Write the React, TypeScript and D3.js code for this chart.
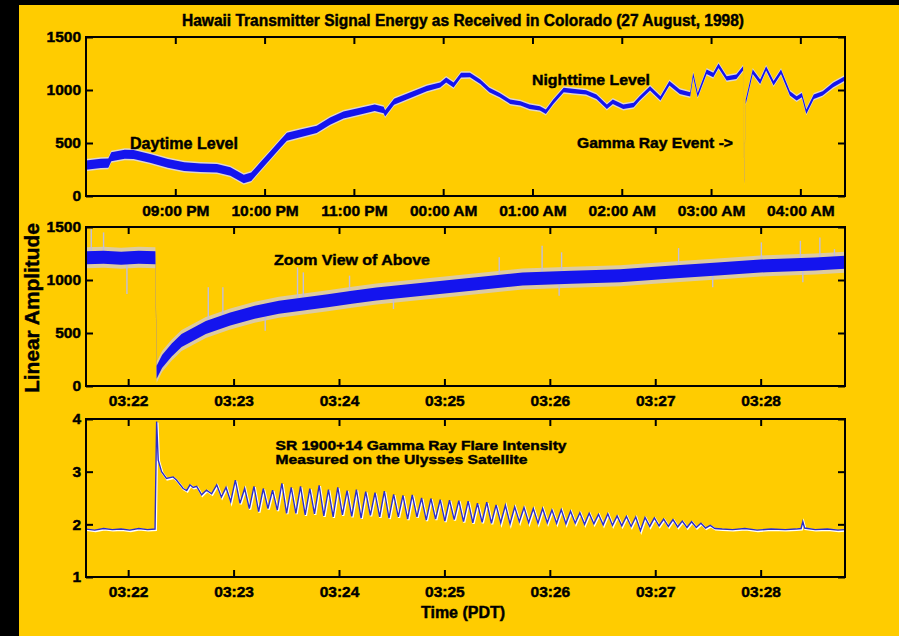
import React, { useEffect, useRef } from 'react';
import * as d3 from 'd3';

const W = 899;
const H = 636;
const FONT = '"Liberation Sans", Arial, sans-serif';

// top panel: [minutes after 20:00 PDT, linear amplitude]
const topSignal: [number, number][] = [
  [0, 292], [10, 308], [15, 310], [17, 371], [26, 393], [32, 392], [43, 355], [55, 308],
  [66, 277], [77, 267], [88, 261], [97, 230], [106, 160], [111, 182], [117, 277], [124, 387],
  [131, 497], [135, 559], [144, 591], [155, 629], [164, 707], [173, 764], [185, 802], [194, 833],
  [200, 811], [201, 780], [207, 889], [218, 952], [229, 1015], [238, 1047], [242, 1094], [247, 1047],
  [252, 1140], [258, 1141], [265, 1078], [271, 1000], [278, 952], [285, 889], [292, 874], [298, 842],
  [305, 827], [309, 795], [314, 889], [321, 1000], [327, 990], [336, 978], [343, 936], [350, 842],
  [354, 889], [361, 842], [368, 858], [372, 921], [379, 1015], [386, 921], [392, 1063], [399, 983],
  [406, 959], [408, 1141], [411, 952], [417, 1172], [421.5, 1141], [425, 1229], [430.5, 1110], [437, 1125],
  [441.5, 1204], [442.3, 135], [443.3, 889], [448, 1172], [453, 1078], [457, 1204], [462, 1063], [467, 1172],
  [473, 968], [477.5, 921], [481, 952], [484, 795], [489, 936], [495, 968], [502, 1047], [510, 1110],
];
const topTickLabels = ['09:00 PM', '10:00 PM', '11:00 PM', '00:00 AM', '01:00 AM', '02:00 AM', '03:00 AM', '04:00 AM'];
const ampTicks = [0, 500, 1000, 1500];

// middle panel: [seconds after 03:21:36, amplitude] (centre of the noisy band)
const zoomCenter: [number, number][] = [
  [0, 1210], [10, 1215], [20, 1205], [30, 1215], [39.5, 1210], [40.2, 130], [43.3, 230], [48.8, 340],
  [54.4, 430], [68.2, 553], [82.1, 632], [96, 695], [109.8, 742], [123.7, 774], [137.6, 805], [151.4, 837],
  [165.3, 868], [193, 915], [220.8, 962], [248.5, 1009], [276.3, 1025], [304, 1041], [331.7, 1072],
  [359.4, 1104], [387.2, 1135], [414.9, 1151], [432, 1167],
];
// isolated spikes standing out of the band
const zoomSpikes: [number, number][] = [
  [3, 1481], [10, 1449], [23.3, 868], [69.6, 931], [77.9, 931], [102, 522], [120.4, 1119], [123.7, 1072],
  [150, 1041], [175, 726], [235.2, 1214], [259.6, 1323], [269.3, 852], [270.7, 1261], [337.3, 1301],
  [356.7, 931], [384.4, 1355], [406.6, 1370], [408, 978], [417.7, 1402], [426, 1292],
];

// bottom panel: Ulysses flare intensity
const flareEarly: [number, number][] = [
  [0, 1.91], [5, 1.89], [10, 1.92], [15, 1.9], [20, 1.91], [25, 1.89], [30, 1.92], [35, 1.9],
  [39.3, 1.91], [39.6, 2.6], [40.2, 3.95], [41.1, 3.22], [43, 3.0], [45.8, 2.87], [49.6, 2.9], [51.5, 2.84],
  [55.3, 2.68], [57.3, 2.64], [59.2, 2.75], [61, 2.7], [63, 2.72], [65.8, 2.56], [68.6, 2.65], [71.5, 2.58],
];
const flarePulseStart = 74.4;
const flarePulseStep = 2.65;
const flarePulses = [
  2.75, 2.52, 2.70, 2.43, 2.84, 2.40, 2.68, 2.30, 2.72, 2.24, 2.68, 2.30, 2.65, 2.27, 2.78, 2.21,
  2.70, 2.21, 2.72, 2.18, 2.68, 2.20, 2.74, 2.16, 2.66, 2.14, 2.70, 2.18, 2.64, 2.15, 2.66, 2.12,
  2.62, 2.17, 2.60, 2.14, 2.63, 2.12, 2.57, 2.14, 2.55, 2.10, 2.56, 2.14, 2.50, 2.08, 2.49, 2.10,
  2.47, 2.06, 2.46, 2.09, 2.45, 2.05, 2.44, 2.03, 2.40, 2.04, 2.42, 2.02, 2.37, 2.03, 2.36, 2.01,
  2.33, 2.05, 2.32, 2.03, 2.30, 2.02, 2.30, 2.03, 2.27, 2.02, 2.28, 2.01, 2.25, 2.02, 2.22, 2.00,
  2.21, 2.01, 2.19, 1.99, 2.20, 1.98, 2.16, 1.97, 2.15, 1.96, 2.14, 1.88, 2.13, 1.96, 2.12, 1.97,
  2.10, 1.96, 2.09, 1.95, 2.06, 1.94, 2.05, 1.94, 2.02, 1.93, 1.98, 1.92,
];
const flareTail: [number, number][] = [
  [362, 1.91], [368, 1.9], [375, 1.92], [382, 1.89], [390, 1.91], [398, 1.9], [404, 1.91], [407, 1.92],
  [408, 2.05], [409, 1.93], [415, 1.9], [422, 1.91], [428, 1.89], [432, 1.9],
];
const flareTicks = [1, 2, 3, 4];

const App = () => {
  const svgRef = useRef<SVGSVGElement>(null);

  useEffect(() => {
    if (!svgRef.current) return;
    const svg = d3.select(svgRef.current);
    svg.selectAll('*').remove();

    svg.append('rect').attr('width', W).attr('height', H).attr('fill', '#000');
    svg.append('rect').attr('x', 19).attr('y', 5).attr('width', W - 19).attr('height', H - 5).attr('fill', '#ffcc00');

    const left = 86;
    const right = 845;
    const panels = { top: [37, 196], mid: [227, 386], bot: [419, 577] };

    const defs = svg.append('defs');
    Object.entries(panels).forEach(([k, [y0, y1]]) => {
      defs.append('clipPath').attr('id', `clip-${k}`)
        .append('rect').attr('x', left).attr('y', y0).attr('width', right - left).attr('height', y1 - y0);
    });

    // scales
    const nightStart = new Date(1998, 7, 27, 20, 0, 0);
    const tMin = (m: number) => new Date(nightStart.getTime() + m * 60000);
    const xTop = d3.scaleTime().domain([tMin(0), tMin(510)]).range([left, right]);
    const yTop = d3.scaleLinear().domain([0, 1500]).range([panels.top[1], panels.top[0]]);

    const zoomStart = new Date(1998, 7, 28, 3, 21, 36);
    const tSec = (s: number) => new Date(zoomStart.getTime() + s * 1000);
    const xZoom = d3.scaleTime().domain([tSec(0), tSec(432)]).range([left, right]);
    const yMid = d3.scaleLinear().domain([0, 1500]).range([panels.mid[1], panels.mid[0]]);
    const yBot = d3.scaleLinear().domain([1, 4]).range([panels.bot[1], panels.bot[0]]);

    // ---- top panel trace (band gets thinner after sunset)
    const bandPx = d3.scaleLinear().domain([0, 110, 200, 260, 510]).range([4.6, 4.2, 3.2, 2.2, 2.2]).clamp(true);
    const topG = svg.append('g').attr('clip-path', 'url(#clip-top)');
    const topArea = (extra: number) => d3.area<[number, number]>()
      .x(d => xTop(tMin(d[0])))
      .y0(d => yTop(d[1]) + bandPx(d[0]) + extra)
      .y1(d => yTop(d[1]) - bandPx(d[0]) - extra);
    topG.append('path').datum(topSignal).attr('d', topArea(1.5)).attr('fill', '#dcd8ec').attr('opacity', 0.85);
    topG.append('path').datum(topSignal).attr('d', topArea(0)).attr('fill', '#1414ee');

    // ---- middle panel trace
    const midG = svg.append('g').attr('clip-path', 'url(#clip-mid)');
    const midArea = (half: number) => d3.area<[number, number]>()
      .x(d => xZoom(tSec(d[0])))
      .y0(d => yMid(d[1]) + half)
      .y1(d => yMid(d[1]) - half);
    const centerAt = d3.scaleLinear().domain(zoomCenter.map(d => d[0])).range(zoomCenter.map(d => d[1]));
    midG.append('path').datum(zoomCenter).attr('d', midArea(10.5)).attr('fill', '#cfcbe4').attr('opacity', 0.7);
    midG.selectAll('.spike').data(zoomSpikes).enter().append('line')
      .attr('x1', d => xZoom(tSec(d[0]))).attr('x2', d => xZoom(tSec(d[0])))
      .attr('y1', d => yMid(centerAt(d[0]))).attr('y2', d => yMid(d[1]))
      .attr('stroke', '#c2bedc').attr('stroke-width', 1.4);
    midG.append('path').datum(zoomCenter).attr('d', midArea(6.5)).attr('fill', '#1414ee');

    // ---- bottom panel trace
    const flare: [number, number][] = [
      ...flareEarly,
      ...flarePulses.map((v, i) => [flarePulseStart + i * flarePulseStep, v] as [number, number]),
      ...flareTail,
    ];
    const botG = svg.append('g').attr('clip-path', 'url(#clip-bot)');
    const flareLine = d3.line<[number, number]>().x(d => xZoom(tSec(d[0]))).y(d => yBot(d[1]));
    botG.append('path').datum(flare).attr('d', flareLine).attr('fill', 'none')
      .attr('stroke', '#ffffff').attr('stroke-width', 2.2).attr('transform', 'translate(0.8,0.9)');
    botG.append('path').datum(flare).attr('d', flareLine).attr('fill', 'none')
      .attr('stroke', '#2c2cc8').attr('stroke-width', 1.4);

    // ---- frames and axes
    const styleAxis = (g: d3.Selection<SVGGElement, unknown, null, undefined>) => {
      g.select('.domain').remove();
      g.selectAll('.tick line').attr('stroke', '#000').attr('stroke-width', 2);
      g.attr('font-family', FONT).attr('font-size', 15.5).attr('font-weight', 'bold');
      g.selectAll('.tick text').attr('fill', '#000').attr('stroke', '#000').attr('stroke-width', 0.45);
    };

    const drawFrame = (
      x: d3.ScaleTime<number, number>,
      y: d3.ScaleLinear<number, number>,
      [y0, y1]: number[],
      xTicks: Date[],
      xFormat: (d: Date, i: number) => string,
      yTicks: number[],
    ) => {
      svg.append('g').attr('transform', `translate(0,${y1})`)
        .call(d3.axisBottom(x).tickValues(xTicks).tickFormat(xFormat as any).tickSizeInner(-7).tickSizeOuter(0).tickPadding(9))
        .call(styleAxis);
      svg.append('g').attr('transform', `translate(0,${y0})`)
        .call(d3.axisTop(x).tickValues(xTicks).tickFormat(() => '').tickSizeInner(-7).tickSizeOuter(0))
        .call(styleAxis);
      svg.append('g').attr('transform', `translate(${left},0)`)
        .call(d3.axisLeft(y).tickValues(yTicks).tickFormat(d3.format('d')).tickSizeInner(-7).tickSizeOuter(0).tickPadding(5))
        .call(styleAxis);
      svg.append('g').attr('transform', `translate(${right},0)`)
        .call(d3.axisRight(y).tickValues(yTicks).tickFormat(() => '').tickSizeInner(-7).tickSizeOuter(0))
        .call(styleAxis);
      svg.append('rect').attr('x', left).attr('y', y0).attr('width', right - left).attr('height', y1 - y0)
        .attr('fill', 'none').attr('stroke', '#000').attr('stroke-width', 2);
    };

    const hourTicks = d3.timeHour.range(tMin(60), tMin(511));
    drawFrame(xTop, yTop, panels.top, hourTicks, (_d, i) => topTickLabels[i], ampTicks);
    const minuteTicks = d3.timeMinute.range(tSec(1), tSec(433));
    const minFmt = d3.timeFormat('%H:%M');
    drawFrame(xZoom, yMid, panels.mid, minuteTicks, d => minFmt(d), ampTicks);
    drawFrame(xZoom, yBot, panels.bot, minuteTicks, d => minFmt(d), flareTicks);

    // ---- text
    const label = (txt: string, x: number, y: number, size: number, len?: number, anchor = 'start') => {
      const t = svg.append('text').attr('x', x).attr('y', y).text(txt)
        .attr('font-family', FONT).attr('font-size', size).attr('font-weight', 'bold')
        .attr('fill', '#000').attr('stroke', '#000').attr('stroke-width', 0.45)
        .attr('text-anchor', anchor);
      if (len) t.attr('textLength', len).attr('lengthAdjust', 'spacingAndGlyphs');
      return t;
    };

    label('Hawaii Transmitter Signal Energy as Received in Colorado (27 August, 1998)', 182, 25.5, 16, 562);
    label('Daytime Level', 130, 149, 16, 108);
    label('Nighttime Level', 532, 84.5, 15.5, 118);
    label('Gamma Ray Event ->', 577, 148, 15.5, 156);
    label('Zoom View of Above', 274, 265, 15.5, 156);
    label('SR 1900+14 Gamma Ray Flare Intensity', 275.5, 450, 13.5, 291);
    label('Measured on the Ulysses Satellite', 275.5, 464, 13.5, 252);
    label('Time (PDT)', 421, 618, 16, 84);
    label('Linear Amplitude', 0, 0, 21, 170, 'middle')
      .attr('transform', 'translate(38.5,308) rotate(-90)');
  }, []);

  return (
    <svg
      ref={svgRef}
      width={W}
      height={H}
      style={{ position: 'absolute', left: 0, top: 0, display: 'block' }}
    />
  );
};

export default App;
